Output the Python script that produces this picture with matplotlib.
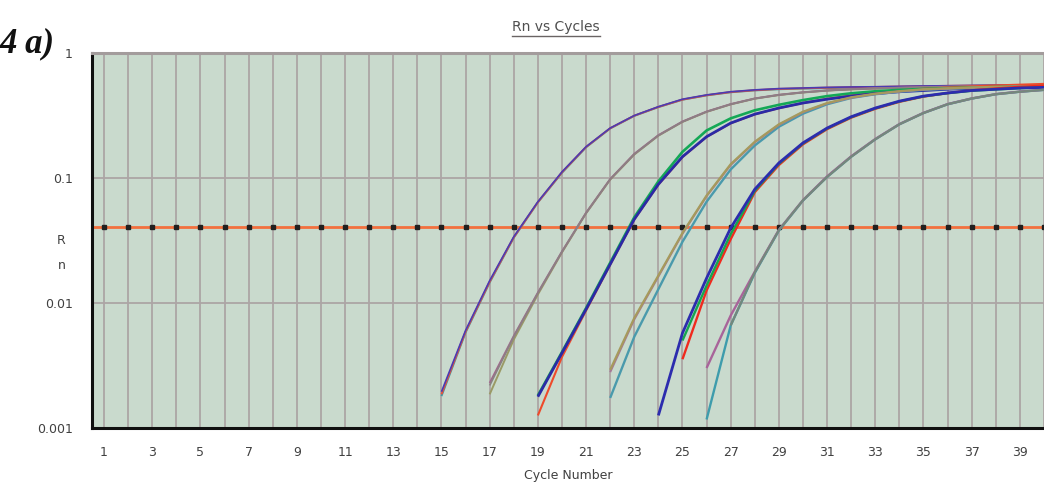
import matplotlib
matplotlib.use("Agg")
import matplotlib.pyplot as plt
from matplotlib.lines import Line2D

# --- data (Rn per cycle) ---
threshold = 0.0405
tick_cycles = list(range(1, 40, 2))
grid_cycles = list(range(1, 41))

# group A starts at cycle 15
a_start = 15
a_teal = [0.00180, 0.00580, 0.0146, 0.0333, 0.0638, 0.110, 0.176, 0.249, 0.314, 0.369, 0.423, 0.458, 0.485,
          0.502, 0.513, 0.519, 0.524, 0.528, 0.531, 0.535, 0.539, 0.542, 0.545, 0.547, 0.550, 0.552]
a_red = [0.00186, 0.00590, 0.0148, 0.0335, 0.0640, 0.111, 0.177, 0.250, 0.315, 0.370, 0.424, 0.459, 0.487,
         0.504, 0.516, 0.522, 0.528, 0.532, 0.535, 0.539, 0.543, 0.546, 0.549, 0.551, 0.554, 0.556]
a_blue = [0.00195, 0.00603, 0.0151, 0.0339, 0.0646, 0.112, 0.178, 0.251, 0.316, 0.372, 0.427, 0.462, 0.490,
          0.507, 0.519, 0.525, 0.531, 0.535, 0.537, 0.541, 0.545, 0.547, 0.550, 0.552, 0.555, 0.557]

# group B starts at cycle 17
b_start = 17
b_olive = [0.00186, 0.00510, 0.0117, 0.0254, 0.0522, 0.0970, 0.154, 0.218, 0.281, 0.338, 0.388, 0.431,
           0.461, 0.483, 0.500, 0.511, 0.519, 0.525, 0.530, 0.535, 0.539, 0.543, 0.545, 0.548]
b_mauve = [0.00229, 0.00545, 0.0121, 0.0258, 0.0527, 0.0980, 0.156, 0.220, 0.283, 0.340, 0.390, 0.433,
           0.463, 0.485, 0.502, 0.514, 0.522, 0.528, 0.533, 0.538, 0.542, 0.546, 0.549, 0.552]
b_gray = [0.00219, 0.00537, 0.0120, 0.0257, 0.0525, 0.0977, 0.155, 0.219, 0.282, 0.339, 0.389, 0.432,
          0.462, 0.484, 0.501, 0.513, 0.521, 0.527, 0.532, 0.537, 0.541, 0.545, 0.547, 0.550]

# group C starts at cycle 19
c_start = 19
c_red = [0.00126, 0.00370, 0.00870, 0.0202, 0.0465, 0.0885, 0.147, 0.213, 0.274, 0.323, 0.362,
         0.398, 0.430, 0.458, 0.482, 0.502, 0.518, 0.530, 0.540, 0.550, 0.558, 0.566]
c_green = [0.00182, 0.00405, 0.00910, 0.0210, 0.0485, 0.0940, 0.162, 0.240, 0.300, 0.348, 0.385,
           0.420, 0.452, 0.476, 0.494, 0.507, 0.516, 0.523, 0.529, 0.534, 0.539, 0.543]
c_blue = [0.00178, 0.00398, 0.00891, 0.0204, 0.0468, 0.0891, 0.148, 0.214, 0.275, 0.324, 0.363,
          0.398, 0.427, 0.452, 0.473, 0.490, 0.501, 0.513, 0.521, 0.528, 0.535, 0.540]

# group D starts at cycle 22
d_start = 22
d_teal = [0.00174, 0.00537, 0.0129, 0.0309, 0.0646, 0.117, 0.182, 0.257, 0.327, 0.389, 0.437, 0.468,
          0.490, 0.507, 0.517, 0.525, 0.531, 0.536, 0.541]
d_mauve = [0.00280, 0.00740, 0.0163, 0.0358, 0.0715, 0.127, 0.193, 0.266, 0.336, 0.395, 0.439, 0.470,
           0.492, 0.510, 0.519, 0.527, 0.533, 0.538, 0.543]
d_olive = [0.00292, 0.00759, 0.0166, 0.0363, 0.0724, 0.129, 0.195, 0.269, 0.339, 0.398, 0.442, 0.473,
           0.495, 0.513, 0.522, 0.530, 0.536, 0.541, 0.546]

# group E (blue starts one cycle earlier)
e_blue_start = 24
e_blue = [0.00126, 0.00575, 0.0158, 0.0398, 0.0813, 0.132, 0.191, 0.251, 0.309, 0.363, 0.412, 0.452,
          0.479, 0.501, 0.513, 0.525, 0.531]
e_start = 25
e_green = [0.00501, 0.0138, 0.0355, 0.0790, 0.130, 0.189, 0.249, 0.307, 0.361, 0.410, 0.450, 0.477,
           0.499, 0.511, 0.523, 0.530]
e_red = [0.00355, 0.0126, 0.0324, 0.0770, 0.127, 0.186, 0.246, 0.304, 0.358, 0.407, 0.448, 0.478,
         0.503, 0.520, 0.536, 0.548]

# group F starts at cycle 26 (gray one at 27)
f_start = 26
f_teal = [0.00117, 0.00661, 0.0174, 0.0380, 0.0661, 0.102, 0.148, 0.204, 0.269, 0.331, 0.389, 0.432,
          0.468, 0.490, 0.507]
f_mauve = [0.00302, 0.00794, 0.0178, 0.0385, 0.0665, 0.103, 0.149, 0.205, 0.270, 0.332, 0.390, 0.433,
           0.469, 0.491, 0.508]
f_gray_start = 27
f_gray = [0.00661, 0.0176, 0.0382, 0.0663, 0.102, 0.148, 0.204, 0.269, 0.331, 0.389, 0.432,
          0.468, 0.490, 0.507]

curves = [
    (a_start, a_teal, '#3e9aa6', 1.4), (a_start, a_red, '#e8503a', 1.4), (a_start, a_blue, '#4a3cb4', 1.2),
    (b_start, b_olive, '#9a9a66', 1.4), (b_start, b_mauve, '#a2668e', 1.4), (b_start, b_gray, '#8c8084', 1.3),
    (c_start, c_red, '#ee4a2a', 1.5), (c_start, c_green, '#14a856', 1.9), (c_start, c_blue, '#2a2aa6', 2.0),
    (d_start, d_teal, '#4a9aac', 1.7), (d_start, d_mauve, '#a67898', 1.5), (d_start, d_olive, '#a69a5c', 1.6),
    (e_start, e_red, '#f02a1e', 1.7), (e_start, e_green, '#16a650', 1.7), (e_blue_start, e_blue, '#2c2cae', 2.0),
    (f_start, f_teal, '#3e9cac', 1.7), (f_start, f_mauve, '#a8649a', 1.7), (f_gray_start, f_gray, '#74887c', 1.6),
]

fig = plt.figure(figsize=(10.44, 4.88), dpi=100)
ax = fig.add_axes([92 / 1044, 1 - 428 / 488, 1 - 92 / 1044, (428 - 53) / 488])
ax.set_facecolor('#c9dacd')

for c in grid_cycles:
    ax.axvline(c, color='#aca5a5', lw=1.3, zorder=1)
for v in [0.01, 0.1]:
    ax.axhline(v, color='#aca5a5', lw=1.3, zorder=1)

ax.plot([0.5, 40.5], [threshold, threshold], color='#f2703e', lw=2.0, zorder=2)
ax.plot(grid_cycles, [threshold] * len(grid_cycles), ls='none', marker='s', ms=3.2,
        color='#202020', zorder=3)

for start, vals, col, lw in curves:
    ax.plot(range(start, start + len(vals)), vals, color=col, lw=lw, zorder=4,
            solid_capstyle='butt', solid_joinstyle='round')

ax.set_yscale('log')
ax.set_ylim(0.001, 1)
ax.set_xlim(0.5, 40.0)
ax.set_yticks([0.001, 0.01, 0.1, 1])
ax.set_yticklabels(['0.001', '0.01', '0.1', '1'])
ax.minorticks_off()
ax.set_xticks(tick_cycles)
ax.set_xticklabels([str(c) for c in tick_cycles])
ax.tick_params(length=0, labelsize=9, labelcolor='#404040')
ax.tick_params(axis='y', pad=14)
ax.tick_params(axis='x', pad=13)

for s in ['left', 'bottom']:
    ax.spines[s].set_color('#101010')
    ax.spines[s].set_linewidth(2.2)
ax.spines['top'].set_color('#a39c9c')
ax.spines['top'].set_linewidth(2.2)
ax.spines['right'].set_visible(False)

ax.set_xlabel('Cycle Number', fontsize=9, color='#404040', labelpad=7)
ax.set_ylabel('R\nn', rotation=0, fontsize=9, color='#404040', linespacing=2.2, va='center')
ax.yaxis.set_label_coords(-0.032, 0.467)

title = fig.text(556 / 1044, 1 - 27 / 488, 'Rn vs Cycles', ha='center', va='center',
                 fontsize=10, color='#505050')
fig.canvas.draw()
bb = title.get_window_extent()
fig.add_artist(Line2D([bb.x0 / 1044, bb.x1 / 1044], [(bb.y0 - 2) / 488, (bb.y0 - 2) / 488],
                      color='#6a6464', lw=1.0))

fig.text(0.0, 1 - 52 / 488, '4 a)', ha='left', va='baseline', fontsize=25,
         fontweight='bold', fontstyle='italic', family='Liberation Serif', color='#111111')

plt.savefig('out.png', dpi=100)
